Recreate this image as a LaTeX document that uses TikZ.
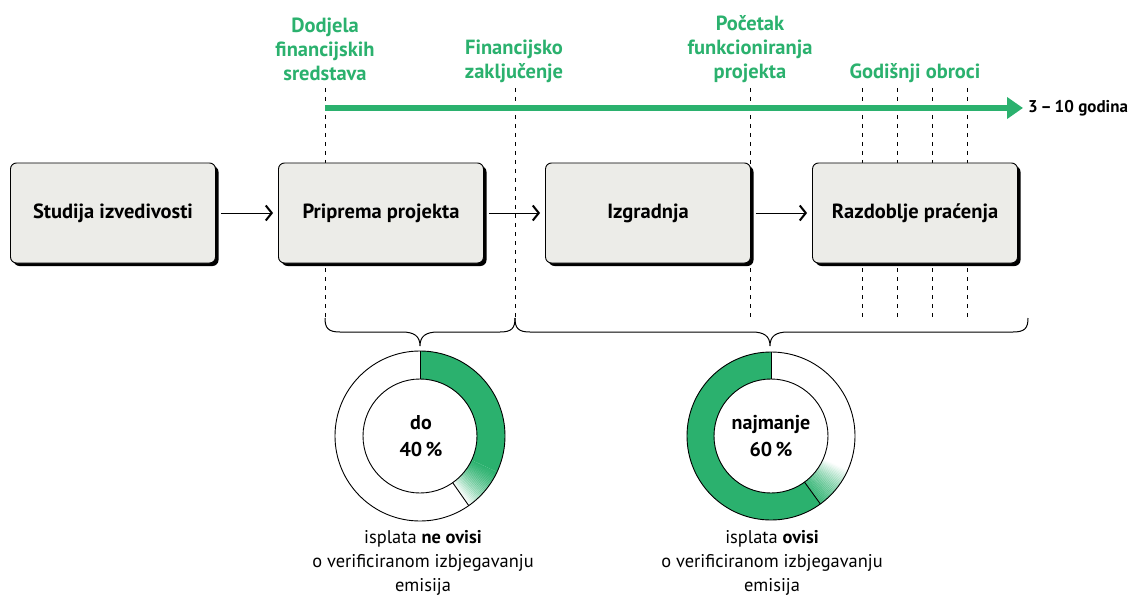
\documentclass[tikz,border=0pt]{standalone}
\usepackage{fontspec}
\setmainfont{PT Sans}
\usetikzlibrary{arrows.meta,shadows}
\definecolor{gr}{RGB}{43,177,110}
\definecolor{boxgray}{RGB}{236,236,232}
\tikzset{
  box/.style={draw=black, line width=0.9pt, fill=boxgray, rounded corners=6pt,
    minimum width=205pt, minimum height=100pt, inner sep=0pt,
    font=\bfseries\fontsize{20.5}{24}\selectfont,
    drop shadow={shadow xshift=3pt, shadow yshift=-3pt, fill=black, opacity=1}},
  flow/.style={line width=0.9pt, -{Straight Barb[length=6pt,width=15pt,line width=2pt]}, shorten <=5pt, shorten >=5pt},
  dline/.style={line width=0.7pt, dash pattern=on 4pt off 5pt},
  glabel/.style={text=gr, font=\bfseries\fontsize{20.5}{24}\selectfont, align=center, inner sep=0pt},
  brc/.style={line width=1pt},
  ring/.style={line width=0.9pt},
  pct/.style={font=\bfseries\fontsize{20}{27}\selectfont, align=center, inner sep=0pt},
  captxt/.style={font=\fontsize{18.4}{24}\selectfont, align=center, inner sep=0pt}
}
\begin{document}
\begin{tikzpicture}[x=1pt,y=1pt]
\useasboundingbox (0,0) rectangle (1132,-596);
% dashed markers
\foreach \n/\x in {d1/325,d2/515,d3/750,d4/862,d5/897,d6/932,d7/967}{
  \coordinate (\n t) at (\x,-88);
  \coordinate (\n b) at (\x,-318);
  \draw[dline] (\n t) -- (\n b);
}
% timeline
\coordinate (tls) at (325,-108);
\coordinate (tle) at (1023,-108);
\draw[gr, line width=6.5pt, -{Triangle[length=16pt,width=21pt]}] (tls) -- (tle);
\node[anchor=west, inner sep=0pt, font=\bfseries\fontsize{17}{20}\selectfont] (tl) at (1028,-108) {3\,–\,10 godina};
% green labels
\node[glabel] (l1) at (325,-49) {Dodjela\\financijskih\\sredstava};
\node[glabel] (l2) at (514,-61) {Financijsko\\zaključenje};
\node[glabel] (l3) at (750,-49) {Početak\\funkcioniranja\\projekta};
\node[glabel] (l4) at (915,-73) {Godišnji obroci};
% boxes
\node[box] (b1) at (113,-213) {Studija izvedivosti};
\node[box] (b2) at (381,-213) {Priprema projekta};
\node[box] (b3) at (648,-213) {Izgradnja};
\node[box] (b4) at (915,-213) {Razdoblje praćenja};
\draw[flow] (b1) -- (b2);
\draw[flow] (b2) -- (b3);
\draw[flow] (b3) -- (b4);
% braces
\coordinate (t1) at (420,-346);
\coordinate (t2) at (770,-346);
\coordinate (be) at (1028,-318);
\draw[brc] (d1b) .. controls (325,-328) and (328,-332) .. (340,-332) -- (402,-332)
  .. controls (414,-332) and (420,-336) .. (t1)
  .. controls (420,-336) and (426,-332) .. (438,-332) -- (500,-332)
  .. controls (512,-332) and (515,-328) .. (d2b);
\draw[brc] (d2b) .. controls (515,-328) and (518,-332) .. (530,-332) -- (752,-332)
  .. controls (764,-332) and (770,-336) .. (t2)
  .. controls (770,-336) and (776,-332) .. (788,-332) -- (1013,-332)
  .. controls (1025,-332) and (1028,-328) .. (be);
% donut 1
\begin{scope}[shift={(420,-436)}]
  \fill[gr] (90:85) arc[start angle=90,end angle=-25,radius=85] -- (-25:57) arc[start angle=-25,end angle=90,radius=57] -- cycle;
  \foreach \i in {0,...,29}{
    \pgfmathsetmacro\a{-25-\i}
    \pgfmathsetmacro\b{-25-\i-1.3}
    \pgfmathsetmacro\o{1-(\i+0.5)/30}
    \fill[gr, fill opacity=\o] (\a:85) arc[start angle=\a,end angle=\b,radius=85] -- (\b:57) arc[start angle=\b,end angle=\a,radius=57] -- cycle;
  }
  \fill[white] (-55:56) -- (-55:86) arc[start angle=-55,end angle=-70,radius=86] -- (-70:56) -- cycle;
  \draw[ring] (0,0) circle[radius=85];
  \draw[ring] (0,0) circle[radius=57];
  \draw[ring] (90:57) -- (90:85);
  \draw[ring] (-55:57) -- (-55:85);
\end{scope}
\node[pct] (p1) at (421,-436) {do\\40\,\%};
% donut 2
\begin{scope}[shift={(771,-436)}]
  \fill[gr] (90:84) arc[start angle=90,end angle=306,radius=84] -- (306:57) arc[start angle=306,end angle=90,radius=57] -- cycle;
  \foreach \i in {0,...,29}{
    \pgfmathsetmacro\a{-54+\i}
    \pgfmathsetmacro\b{-54+\i+1.3}
    \pgfmathsetmacro\o{0.85*(1-(\i+0.5)/30)}
    \fill[gr, fill opacity=\o] (\a:84) arc[start angle=\a,end angle=\b,radius=84] -- (\b:57) arc[start angle=\b,end angle=\a,radius=57] -- cycle;
  }
  \draw[ring] (0,0) circle[radius=84];
  \draw[ring] (0,0) circle[radius=57];
  \draw[ring] (90:57) -- (90:84);
  \draw[ring] (-54:57) -- (-54:84);
\end{scope}
\node[pct] (p2) at (771,-436) {najmanje\\60\,\%};
% captions
\node[captxt] (c1) at (423,-563) {isplata \textbf{ne ovisi}\\o verificiranom izbjegavanju\\emisija};
\node[captxt] (c2) at (772,-563) {isplata \textbf{ovisi}\\o verificiranom izbjegavanju\\emisija};
\end{tikzpicture}
\end{document}
